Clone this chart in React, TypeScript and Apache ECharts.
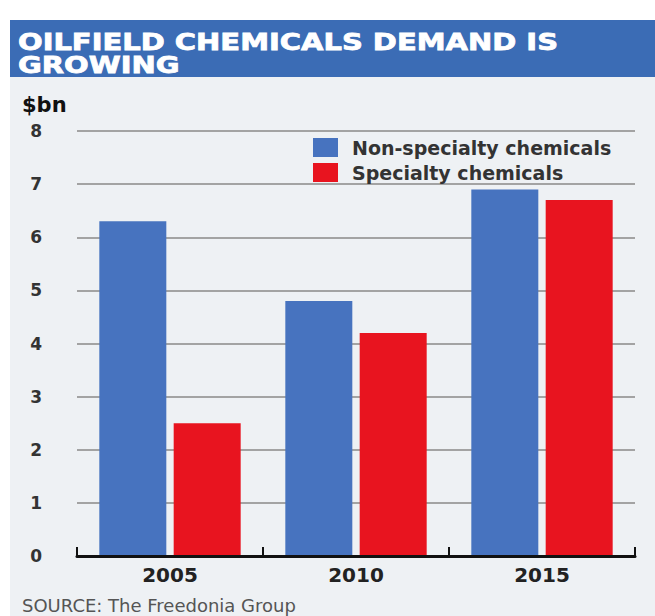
import React, { useEffect, useRef } from "react";
import * as echarts from "echarts";

const categories = ["2005", "2010", "2015"];
const nonSpecialty = [6.3, 4.8, 6.9];
const specialty = [2.5, 4.2, 6.7];
const seriesNames = ["Non-specialty chemicals", "Specialty chemicals"];
const titleLines = ["OILFIELD CHEMICALS DEMAND IS", "GROWING"];
const unitLabel = "$bn";
const sourceText = "SOURCE: The Freedonia Group";

const FONT = "DejaVu Sans";

export default function App() {
  const ref = useRef<HTMLDivElement>(null);
  useEffect(() => {
    const chart = echarts.init(ref.current!, null, { renderer: "svg" });
    chart.setOption({
      animation: false,
      backgroundColor: "#ffffff",
      graphic: [
        { type: "rect", z: -10, shape: { x: 10, y: 20, width: 645, height: 596 }, style: { fill: "#eef1f4" } },
        { type: "rect", z: -9, shape: { x: 10, y: 20, width: 645, height: 57 }, style: { fill: "#3b6cb5" } },
        {
          type: "text", x: 18, y: 42, scaleX: 1.26,
          style: { text: titleLines[0], fill: "#ffffff", stroke: "#ffffff", lineWidth: 0.8, font: `bold 23px "${FONT}"`, textVerticalAlign: "middle" },
        },
        {
          type: "text", x: 18, y: 65, scaleX: 1.26,
          style: { text: titleLines[1], fill: "#ffffff", stroke: "#ffffff", lineWidth: 0.8, font: `bold 23px "${FONT}"`, textVerticalAlign: "middle" },
        },
        {
          type: "text", x: 22, y: 105,
          style: { text: unitLabel, fill: "#111111", font: `bold 21px "${FONT}"`, textVerticalAlign: "middle" },
        },
        {
          type: "text", x: 22, y: 605,
          style: { text: sourceText, fill: "#555555", font: `18px "${FONT}"`, textVerticalAlign: "middle" },
        },
      ],
      legend: {
        orient: "vertical",
        left: 313,
        top: 138,
        itemWidth: 25,
        itemHeight: 19,
        itemGap: 6,
        padding: 0,
        icon: "rect",
        data: seriesNames,
        textStyle: { fontFamily: FONT, fontWeight: "bold", fontSize: 19, color: "#333333", padding: [0, 0, 0, 9] },
      },
      grid: { left: 77, right: 20, top: 131, bottom: 60, containLabel: false },
      xAxis: {
        type: "category",
        data: categories,
        boundaryGap: true,
        axisLine: { lineStyle: { color: "#111111", width: 3 } },
        axisTick: { show: true, inside: true, length: 9, alignWithLabel: false, lineStyle: { color: "#111111", width: 2 } },
        axisLabel: { margin: 9, fontFamily: FONT, fontWeight: "bold", fontSize: 20, color: "#222222" },
        splitLine: { show: false },
        z: 5,
      },
      yAxis: {
        type: "value",
        min: 0,
        max: 8,
        interval: 1,
        axisLine: { show: false },
        axisTick: { show: false },
        axisLabel: { margin: 35, fontFamily: FONT, fontWeight: "bold", fontSize: 17, color: "#333333" },
        splitLine: { lineStyle: { color: "#a3a3a3", width: 2 } },
      },
      series: [
        {
          name: seriesNames[0],
          type: "bar",
          data: nonSpecialty,
          barWidth: 67,
          barGap: "11%",
          itemStyle: { color: "#4773bf" },
        },
        {
          name: seriesNames[1],
          type: "bar",
          data: specialty,
          barWidth: 67,
          barGap: "11%",
          itemStyle: { color: "#e8141f" },
        },
      ],
    });
    return () => chart.dispose();
  }, []);
  return (
    <div
      ref={ref}
      style={{ position: "absolute", left: 0, top: 0, width: 655, height: 616 }}
    />
  );
}
